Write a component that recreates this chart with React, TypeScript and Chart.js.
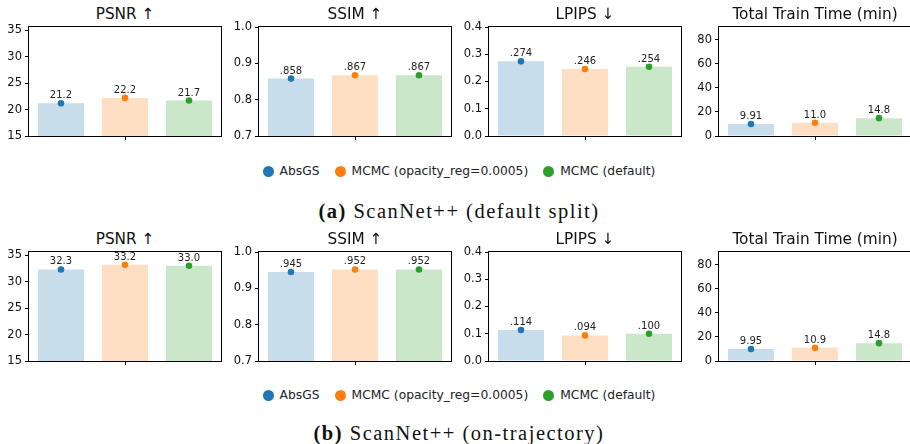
import React, { useEffect, useRef } from 'react';
import { Chart, registerables } from 'chart.js';

Chart.register(...registerables);

// ---------------- data ----------------
const methods = ['AbsGS', 'MCMC (opacity_reg=0.0005)', 'MCMC (default)'];
const pointColors = ['#1f77b4', '#ff7f0e', '#2ca02c'];
const barColors = ['rgba(31,119,180,0.25)', 'rgba(255,127,14,0.25)', 'rgba(44,160,44,0.25)'];

const metricTitles = ['PSNR ↑', 'SSIM ↑', 'LPIPS ↓', 'Total Train Time (min)'];
const psnrTicks = [15, 20, 25, 30, 35];
const ssimTicks = [0.7, 0.8, 0.9, 1.0];
const lpipsTicks = [0.0, 0.1, 0.2, 0.3, 0.4];
const timeTicks = [0, 20, 40, 60, 80];
const axisMin = [15, 0.7, 0, 0];
const axisMax = [35.6, 1.0, 0.4, 90.5];
const tickDecimals = [0, 1, 1, 0];

// (a) ScanNet++ default split
const splitPsnr = [21.2, 22.2, 21.7];
const splitSsim = [0.858, 0.867, 0.867];
const splitLpips = [0.274, 0.246, 0.254];
const splitTime = [9.91, 11.0, 14.8];

// (b) ScanNet++ on-trajectory
const trajPsnr = [32.3, 33.2, 33.0];
const trajSsim = [0.945, 0.952, 0.952];
const trajLpips = [0.114, 0.094, 0.1];
const trajTime = [9.95, 10.9, 14.8];

const captionTags = ['(a)', '(b)'];
const captionTexts = ['ScanNet++ (default split)', 'ScanNet++ (on-trajectory)'];

// ---------------- layout ----------------
const PLOT_W = 192;
const PLOT_H = 109;
const PAD_L = 50;
const PAD_R = 4;
const PAD_T = 24;
const PAD_B = 10;
const plotLefts = [29, 259, 489, 719];
const rowTops = [27, 252];
const SANS = '"DejaVu Sans", sans-serif';

function fmtValue(v: number): string {
  if (v < 1) return v.toFixed(3).replace(/^0/, '');
  return v.toPrecision(3);
}

const framePlugin = {
  id: 'frame',
  afterDraw(chart: any) {
    const { ctx, chartArea } = chart;
    const { left, right, top, bottom } = chartArea;
    ctx.save();
    ctx.strokeStyle = '#000';
    ctx.lineWidth = 1;
    ctx.strokeRect(Math.round(left) - 0.5, Math.round(top) - 0.5, Math.round(right - left) + 1, Math.round(bottom - top) + 1);
    const cx = Math.round((left + right) / 2) + 0.5;
    ctx.beginPath();
    ctx.moveTo(cx, Math.round(bottom));
    ctx.lineTo(cx, Math.round(bottom) + 4);
    ctx.stroke();
    ctx.restore();
  },
};

const valueLabelPlugin = {
  id: 'valueLabels',
  afterDatasetsDraw(chart: any) {
    const { ctx } = chart;
    const meta = chart.getDatasetMeta(1);
    const data = chart.data.datasets[1].data as number[];
    ctx.save();
    ctx.fillStyle = '#222';
    ctx.font = '10px ' + SANS;
    ctx.textAlign = 'center';
    ctx.textBaseline = 'alphabetic';
    meta.data.forEach((pt: any, i: number) => {
      ctx.fillText(fmtValue(data[i]), pt.x, pt.y - 5);
    });
    ctx.restore();
  },
};

type PanelProps = {
  values: number[];
  ticks: number[];
  min: number;
  max: number;
  decimals: number;
  left: number;
  top: number;
};

function Panel({ values, ticks, min, max, decimals, left, top }: PanelProps) {
  const ref = useRef<HTMLCanvasElement>(null);
  const w = PAD_L + PLOT_W + PAD_R;
  const h = PAD_T + PLOT_H + PAD_B;
  useEffect(() => {
    const chart = new Chart(ref.current as HTMLCanvasElement, {
      type: 'bar',
      data: {
        labels: methods,
        datasets: [
          {
            type: 'bar',
            data: values,
            backgroundColor: barColors,
            borderWidth: 0,
            barPercentage: 0.72,
            categoryPercentage: 1,
            order: 2,
          } as any,
          {
            type: 'line',
            data: values,
            showLine: false,
            pointRadius: 3.3,
            pointBackgroundColor: pointColors,
            pointBorderWidth: 0,
            order: 1,
          } as any,
        ],
      },
      options: {
        responsive: false,
        animation: false,
        events: [],
        layout: { padding: { left: 0, top: PAD_T, right: PAD_R, bottom: 0 } },
        plugins: { legend: { display: false }, tooltip: { enabled: false }, title: { display: false } },
        scales: {
          x: {
            grid: { display: false, drawTicks: false },
            border: { display: false },
            ticks: { display: false },
            afterFit: (s: any) => {
              s.height = PAD_B;
            },
          },
          y: {
            min,
            max,
            grid: { display: true, drawOnChartArea: false, drawTicks: true, tickLength: 4, color: '#000', lineWidth: 1 },
            border: { display: false },
            ticks: {
              color: '#111',
              padding: 3,
              font: { family: SANS, size: 11.5 },
              callback: (v: any) => Number(v).toFixed(decimals),
            },
            afterBuildTicks: (s: any) => {
              s.ticks = ticks.map((v) => ({ value: v }));
            },
            afterFit: (s: any) => {
              s.width = PAD_L;
            },
          },
        },
      } as any,
      plugins: [framePlugin, valueLabelPlugin],
    });
    return () => chart.destroy();
  }, []);
  return (
    <canvas
      ref={ref}
      width={w}
      height={h}
      style={{ position: 'absolute', left: left - PAD_L, top: top - PAD_T, width: w, height: h }}
    />
  );
}

function Legend({ top }: { top: number }) {
  return (
    <div
      style={{
        position: 'absolute',
        left: 0,
        width: 918,
        top: top - 8,
        height: 16,
        display: 'flex',
        justifyContent: 'center',
        alignItems: 'center',
        fontFamily: SANS,
        fontSize: 12.3,
        color: '#222',
        whiteSpace: 'nowrap',
      }}
    >
      {methods.map((m, i) => (
        <div key={m} style={{ display: 'flex', alignItems: 'center', marginLeft: i === 0 ? 0 : 15 }}>
          <span
            style={{
              display: 'inline-block',
              width: 11,
              height: 11,
              borderRadius: 5.5,
              background: pointColors[i],
              marginRight: 6,
            }}
          />
          <span>{m}</span>
        </div>
      ))}
    </div>
  );
}

function Caption({ top, tag, text }: { top: number; tag: string; text: string }) {
  return (
    <div
      style={{
        position: 'absolute',
        left: 0,
        width: 918,
        top: top - 12,
        height: 24,
        lineHeight: '24px',
        textAlign: 'center',
        fontFamily: '"Liberation Serif", serif',
        fontSize: 20.5,
        letterSpacing: 1.5,
        color: '#111',
        whiteSpace: 'nowrap',
      }}
    >
      <b>{tag}</b> {text}
    </div>
  );
}

function Title({ left, top, text }: { left: number; top: number; text: string }) {
  return (
    <div
      style={{
        position: 'absolute',
        left: left - 40,
        width: PLOT_W + 80,
        top: top - 10,
        height: 20,
        lineHeight: '20px',
        textAlign: 'center',
        fontFamily: SANS,
        fontSize: 15.3,
        color: '#111',
        whiteSpace: 'nowrap',
      }}
    >
      {text}
    </div>
  );
}

export default function App() {
  const rows = [
    [splitPsnr, splitSsim, splitLpips, splitTime],
    [trajPsnr, trajSsim, trajLpips, trajTime],
  ];
  const tickSets = [psnrTicks, ssimTicks, lpipsTicks, timeTicks];
  const titleY = [14, 239];
  const legendY = [171, 395];
  const captionY = [211, 433];
  return (
    <div
      style={{
        position: 'absolute',
        left: 0,
        top: 0,
        width: 910,
        height: 444,
        overflow: 'hidden',
        background: '#fff',
      }}
    >
      {rows.map((row, r) => (
        <React.Fragment key={r}>
          {row.map((vals, c) => (
            <React.Fragment key={c}>
              <Title left={plotLefts[c]} top={titleY[r]} text={metricTitles[c]} />
              <Panel
                values={vals}
                ticks={tickSets[c]}
                min={axisMin[c]}
                max={axisMax[c]}
                decimals={tickDecimals[c]}
                left={plotLefts[c]}
                top={rowTops[r]}
              />
            </React.Fragment>
          ))}
          <Legend top={legendY[r]} />
          <Caption top={captionY[r]} tag={captionTags[r]} text={captionTexts[r]} />
        </React.Fragment>
      ))}
    </div>
  );
}
